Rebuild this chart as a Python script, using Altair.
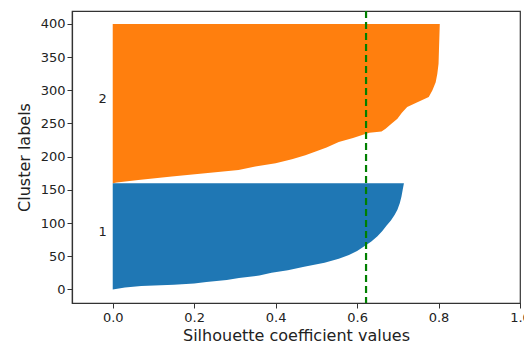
import altair as alt
import pandas as pd

# Cluster 1 silhouette profile (sample index -> coefficient)
c1_idx = [0, 3, 5, 7, 9, 11, 14, 17, 21, 25, 29, 34, 40, 46, 52, 58, 64, 72, 80, 88, 96, 104, 112, 120, 130, 140, 150, 160]
c1_val = [0.0, 0.03, 0.07, 0.15, 0.20, 0.23, 0.28, 0.31, 0.36, 0.39, 0.43, 0.47, 0.52, 0.555, 0.58, 0.60, 0.615, 0.635, 0.65, 0.662, 0.672, 0.683, 0.692, 0.699, 0.705, 0.709, 0.712, 0.715]

# Cluster 2 silhouette profile
c2_idx = [160, 161, 165, 170, 175, 180, 185, 190, 196, 202, 208, 214, 222, 228, 234, 236, 238, 242, 250, 257, 266, 275, 282, 290, 300, 312, 325, 340, 360, 380, 400]
c2_val = [0.0, 0.01, 0.063, 0.145, 0.227, 0.309, 0.35, 0.40, 0.44, 0.473, 0.50, 0.525, 0.555, 0.59, 0.62, 0.63, 0.66, 0.67, 0.685, 0.699, 0.71, 0.723, 0.748, 0.776, 0.785, 0.793, 0.797, 0.80, 0.801, 0.802, 0.803]

cluster_names = ["1", "2"]
cluster_label_y = [87, 287]
cluster_label_x = [-0.025, -0.025]
silhouette_avg = [0.622]

x_ticks = [0.0, 0.2, 0.4, 0.6, 0.8, 1.0]
y_ticks = [0, 50, 100, 150, 200, 250, 300, 350, 400]

rows = [{"cluster": "1", "idx": i, "val": v} for i, v in zip(c1_idx, c1_val)]
rows += [{"cluster": "2", "idx": i, "val": v} for i, v in zip(c2_idx, c2_val)]
df = pd.DataFrame(rows)

labels_df = pd.DataFrame({"name": cluster_names, "y": cluster_label_y, "x": cluster_label_x})
avg_df = pd.DataFrame({"avg": silhouette_avg})

xscale = alt.Scale(domain=[-0.1, 1.0], nice=False, zero=False)
yscale = alt.Scale(domain=[-20.5, 419.5], nice=False, zero=False)
xaxis = alt.Axis(values=x_ticks, format=".1f", title="Silhouette coefficient values", grid=False)
yaxis = alt.Axis(values=y_ticks, title="Cluster labels", grid=False)

areas = alt.Chart(df).mark_area(orient="horizontal", opacity=1).encode(
    y=alt.Y("idx:Q", scale=yscale, axis=yaxis),
    x=alt.X("val:Q", scale=xscale, stack=None, axis=xaxis),
    x2=alt.datum(0),
    color=alt.Color("cluster:N",
                    scale=alt.Scale(domain=cluster_names, range=["#1f77b4", "#ff7f0e"]),
                    legend=None),
)

texts = alt.Chart(labels_df).mark_text(fontSize=13, font="DejaVu Sans", color="#222", align="center", baseline="middle").encode(
    x=alt.X("x:Q", scale=xscale, axis=xaxis),
    y=alt.Y("y:Q", scale=yscale, axis=yaxis),
    text="name:N",
)

rule = alt.Chart(avg_df).mark_rule(color="green", strokeWidth=2.2, strokeDash=[7, 4]).encode(
    x=alt.X("avg:Q", scale=xscale, axis=xaxis),
)

chart = alt.layer(areas, texts, rule).properties(
    width=448,
    height=292,
    autosize=alt.AutoSizeParams(type="none"),
    padding={"left": 72, "top": 11, "right": 4, "bottom": 41},
).configure_view(
    stroke="#333", strokeWidth=1.2
).configure_axis(
    labelFont="DejaVu Sans", titleFont="DejaVu Sans",
    labelFontSize=13, titleFontSize=16,
    labelColor="#222", titleColor="#222",
    titleFontWeight="normal",
    domainColor="#333", tickColor="#333", domainWidth=1.2,
    tickSize=5, labelPadding=2,
    labelOverlap=False, labelFlush=False, labelBound=False,
).configure_axisY(
    titlePadding=8,
).configure_axisX(
    titlePadding=3, labelPadding=3,
)

chart.save("out.html", embed_options={"renderer": "svg", "actions": False})
